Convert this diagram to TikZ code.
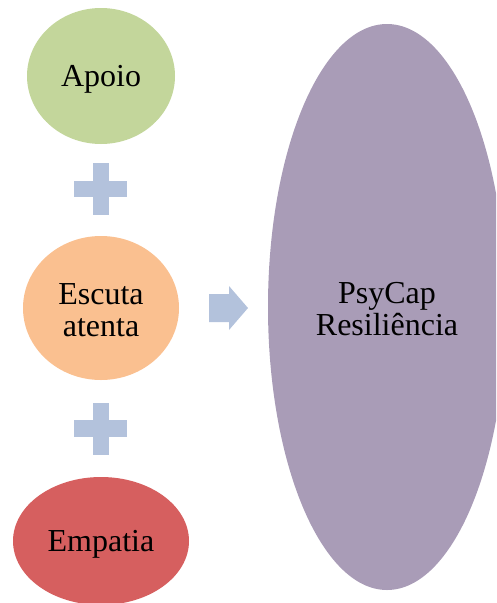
\documentclass[tikz,border=0pt]{standalone}
\usepackage{fontspec}
\setmainfont{Liberation Serif}
\usetikzlibrary{shapes.geometric}
\definecolor{cgreen}{HTML}{C3D69B}
\definecolor{corange}{HTML}{FAC090}
\definecolor{cred}{HTML}{D65F5F}
\definecolor{cpurple}{HTML}{A99CB7}
\definecolor{cplus}{HTML}{B3C2DC}
\begin{document}
\begin{tikzpicture}[x=1pt,y=-1pt,
  blob/.style={ellipse, inner sep=0pt, draw=none},
  txt/.style={inner sep=0pt, font=\fontsize{32}{32}\selectfont, align=center, text=black},
  sym/.style={fill=cplus, draw=none}]
\useasboundingbox (0,0) rectangle (496,603);
\clip (0,0) rectangle (496,603);
\node[blob, fill=cgreen, minimum width=148pt, minimum height=136pt] (apoio) at (101,76) {};
\node[blob, fill=corange, minimum width=156pt, minimum height=144pt] (escuta) at (101,308) {};
\node[blob, fill=cred, minimum width=176pt, minimum height=128pt] (empatia) at (101,541) {};
\node[blob, fill=cpurple, minimum width=238pt, minimum height=566pt] (psycap) at (387,307) {};
\node[txt] (apoiot) at ([yshift=-3pt]apoio.center) {Apoio};
\node[txt] (escutat) at ([yshift=-2pt]escuta.center) {Escuta\\atenta};
\node[txt] (empatiat) at ([yshift=-3pt]empatia.center) {Empatia};
\node[txt] (psycapt) at ([yshift=-2pt]psycap.center) {PsyCap\\Resiliência};
% plus signs
\fill[sym] (93,163) rectangle (109,215);
\fill[sym] (74,181) rectangle (127,197);
\fill[sym] (93,403) rectangle (109,455);
\fill[sym] (74,420) rectangle (127,437);
% arrow
\fill[sym] (209,294) -- (229,294) -- (229,286) -- (248,308) -- (229,330) -- (229,322) -- (209,322) -- cycle;
\end{tikzpicture}
\end{document}
